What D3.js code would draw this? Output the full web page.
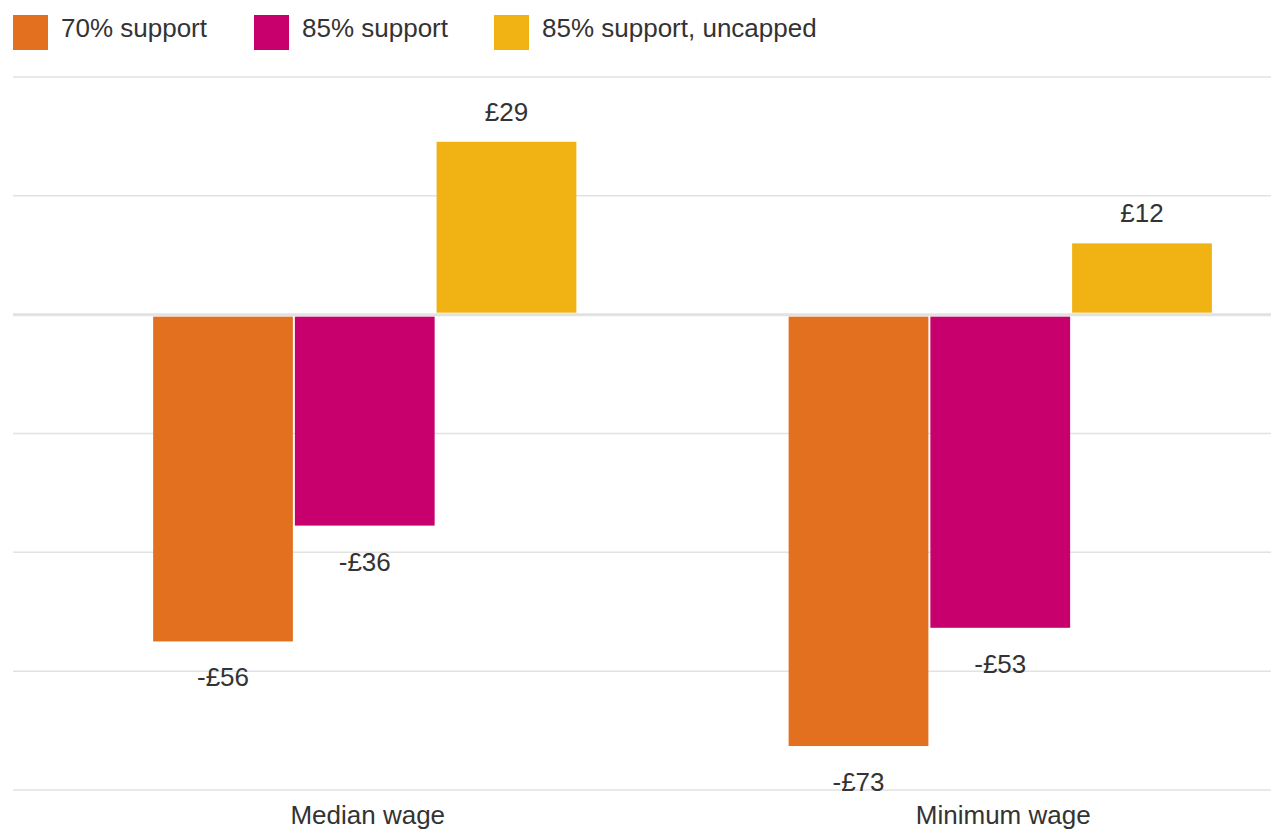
<!DOCTYPE html>
<html>
<head>
<meta charset="utf-8">
<script src="https://cdn.jsdelivr.net/npm/d3@7"></script>
<style>
  body { margin: 0; background: #fff; overflow: hidden; }
  svg { display: block; font-family: "Liberation Sans", Arial, sans-serif; }
</style>
</head>
<body>
<svg id="chart"></svg>
<script>
// data
const categories = ["Median wage", "Minimum wage"];
const series = ["70% support", "85% support", "85% support, uncapped"];
const colors = ["#e3701f", "#c7006e", "#f0b313"];
const medianValues = [-55.0, -35.5, 29.1];
const minimumValues = [-72.6, -52.7, 12.0];
const medianLabels = ["-£56", "-£36", "£29"];
const minimumLabels = ["-£73", "-£53", "£12"];
const yTicks = [40, 20, 0, -20, -40, -60, -80];

const data = [
  {cat: categories[0], values: medianValues, labels: medianLabels},
  {cat: categories[1], values: minimumValues, labels: minimumLabels}
];

const svgWidth = 1271, svgHeight = 832;
const svg = d3.select("#chart")
    .attr("width", svgWidth)
    .attr("height", svgHeight);

// scales
const x0 = d3.scaleBand()
    .domain(categories)
    .range([47, 1318])
    .paddingInner(0.334)
    .paddingOuter(0.167);

const x1 = d3.scaleBand()
    .domain(series)
    .range([0, x0.bandwidth()])
    .paddingInner(0.014);

const y = d3.scaleLinear()
    .domain([40, -80])
    .range([77, 790]);

const color = d3.scaleOrdinal().domain(series).range(colors);

// gridlines
svg.append("g")
  .selectAll("line")
  .data(yTicks)
  .join("line")
    .attr("x1", 13)
    .attr("x2", svgWidth)
    .attr("y1", d => y(d))
    .attr("y2", d => y(d))
    .attr("stroke", "#e2e2e2")
    .attr("stroke-width", d => d === 0 ? 3 : 1.5);

// bars
const groups = svg.append("g")
  .selectAll("g")
  .data(data)
  .join("g")
    .attr("transform", d => "translate(" + x0(d.cat) + ",0)");

groups.selectAll("rect")
  .data(d => d.values.map((v, i) => ({key: series[i], value: v, label: d.labels[i]})))
  .join("rect")
    .attr("x", d => x1(d.key))
    .attr("width", x1.bandwidth())
    .attr("y", d => d.value >= 0 ? y(d.value) : y(0) + 2)
    .attr("height", d => d.value >= 0 ? y(0) - 2 - y(d.value) : y(d.value) - y(0) - 2)
    .attr("fill", d => color(d.key));

groups.selectAll("text")
  .data(d => d.values.map((v, i) => ({key: series[i], value: v, label: d.labels[i]})))
  .join("text")
    .attr("x", d => x1(d.key) + x1.bandwidth() / 2)
    .attr("y", d => d.value >= 0 ? y(d.value) - 21 : y(d.value) + 45)
    .attr("text-anchor", "middle")
    .attr("fill", "#333")
    .attr("font-size", 26)
    .text(d => d.label);

// category labels
svg.append("g")
  .selectAll("text")
  .data(categories)
  .join("text")
    .attr("x", d => x0(d) + x0.bandwidth() / 2 + 3)
    .attr("y", 824)
    .attr("text-anchor", "middle")
    .attr("fill", "#333")
    .attr("font-size", 26)
    .text(d => d);

// legend
const legendX = [13, 254, 494];
const legend = svg.append("g")
  .selectAll("g")
  .data(series)
  .join("g")
    .attr("transform", (d, i) => "translate(" + legendX[i] + ",15)");

legend.append("rect")
    .attr("width", 35)
    .attr("height", 35)
    .attr("fill", d => color(d));

legend.append("text")
    .attr("x", 48)
    .attr("y", 22)
    .attr("fill", "#333")
    .attr("font-size", 26)
    .text(d => d);
</script>
</body>
</html>
